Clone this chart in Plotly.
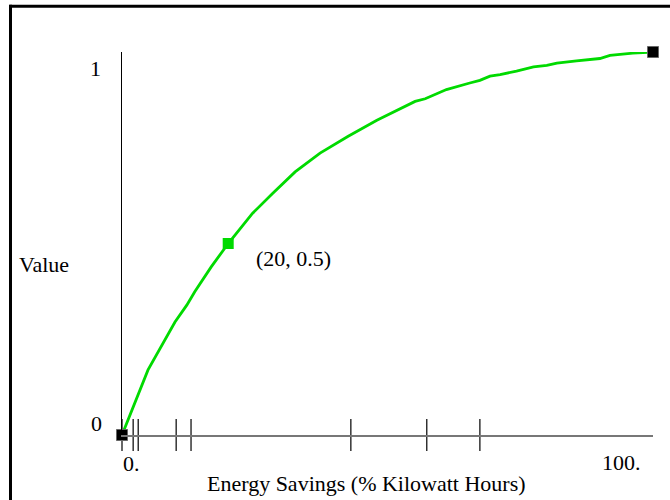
import plotly.graph_objects as go

# Curve data (Energy savings % vs value)
curve_x = [0, 2.45, 4.9, 9.98, 12.2, 13.7, 16.8, 20, 24.6, 28.4, 32.6, 37.3, 40.7, 42.6,
           48.0, 52.4, 55.2, 57.1, 61.1, 65.5, 67.4, 69.3, 71.2, 74.3, 77.5, 80.0,
           81.9, 85.6, 90.0, 91.9, 96.2, 100]
curve_y = [0, 0.083, 0.170, 0.295, 0.339, 0.374, 0.439, 0.5, 0.579, 0.631, 0.687, 0.736,
           0.765, 0.780, 0.822, 0.852, 0.871, 0.878, 0.902, 0.919, 0.926, 0.937, 0.941,
           0.950, 0.961, 0.965, 0.971, 0.977, 0.983, 0.991, 0.997, 1.0]

end_x = [0, 100]
end_y = [0, 1]
mid_x = [20]
mid_y = [0.5]
mid_label = "(20, 0.5)"

tick_x = [0, 2.1, 3.05, 10.2, 13.0, 43.1, 57.4, 67.4]
x_tick_labels = ["0.", "100."]
y_tick_labels = ["0", "1"]

GREEN = "#00DA00"
FONT = "Liberation Serif"
FS = 22

fig = go.Figure()

# tick marks crossing axis
fig.add_trace(go.Scatter(
    x=tick_x, y=[0] * len(tick_x), mode="markers",
    marker=dict(symbol="line-ns", size=23, line=dict(color="black", width=1.2)),
    cliponaxis=False, hoverinfo="skip", showlegend=False))

fig.add_trace(go.Scatter(
    x=curve_x, y=curve_y, mode="lines",
    line=dict(color=GREEN, width=2.8), cliponaxis=False, showlegend=False))

fig.add_trace(go.Scatter(
    x=end_x, y=end_y, mode="markers",
    marker=dict(symbol="square", size=11, color="black", line=dict(color="#666", width=1)),
    cliponaxis=False, showlegend=False))

fig.add_trace(go.Scatter(
    x=mid_x, y=mid_y, mode="markers",
    marker=dict(symbol="square", size=11, color=GREEN, line=dict(width=0)),
    cliponaxis=False, showlegend=False))

annotations = [
    dict(x=mid_x[0], y=mid_y[0], xref="x", yref="y", text=mid_label, showarrow=False,
         xanchor="left", yanchor="middle", xshift=26, yshift=-15, font=dict(size=FS)),
    dict(x=0, y=0, xref="x", yref="y", text=x_tick_labels[0], showarrow=False,
         xanchor="left", yanchor="middle", xshift=-1, yshift=-28, font=dict(size=FS)),
    dict(x=100, y=0, xref="x", yref="y", text=x_tick_labels[1], showarrow=False,
         xanchor="right", yanchor="middle", xshift=-10, yshift=-27, font=dict(size=FS)),
    dict(x=0, y=0, xref="x", yref="y", text=y_tick_labels[0], showarrow=False,
         xanchor="center", yanchor="middle", xshift=-26, yshift=12, font=dict(size=FS)),
    dict(x=0, y=1, xref="x", yref="y", text=y_tick_labels[1], showarrow=False,
         xanchor="center", yanchor="middle", xshift=-27, yshift=-16, font=dict(size=FS)),
    dict(x=(366 - 122) / 531, y=(435 - 484) / 383.3, xref="paper", yref="paper",
         text="Energy Savings (% Kilowatt Hours)", showarrow=False,
         xanchor="center", yanchor="middle", font=dict(size=FS)),
    dict(x=(44 - 122) / 531, y=(435 - 264) / 383.3, xref="paper", yref="paper",
         text="Value", showarrow=False, xanchor="center", yanchor="middle",
         font=dict(size=FS)),
]

px = lambda p: (p - 122) / 531
py = lambda p: (435 - p) / 383.3

shapes = [
    dict(type="line", xref="paper", yref="paper", x0=px(9.5), x1=px(672), y0=py(6), y1=py(6),
         line=dict(color="black", width=3)),
    dict(type="line", xref="paper", yref="paper", x0=px(10.5), x1=px(10.5), y0=py(4.5), y1=py(505),
         line=dict(color="black", width=3)),
]

fig.update_layout(
    width=670, height=500,
    margin=dict(l=122, r=17, t=52, b=65),
    paper_bgcolor="white", plot_bgcolor="white",
    font=dict(family=FONT, size=FS, color="black"),
    showlegend=False,
    annotations=annotations,
    shapes=shapes,
    xaxis=dict(range=[0, 100], showgrid=False, zeroline=False, showticklabels=False,
               ticks="", showline=True, linecolor="#777", linewidth=1.5, fixedrange=True),
    yaxis=dict(range=[0, 1], showgrid=False, zeroline=False, showticklabels=False,
               ticks="", showline=True, linecolor="black", linewidth=1, fixedrange=True),
)

fig.write_html("out.html", config={"displayModeBar": False},
               post_script="document.body.style.margin='0px';document.body.style.overflow='hidden';")
